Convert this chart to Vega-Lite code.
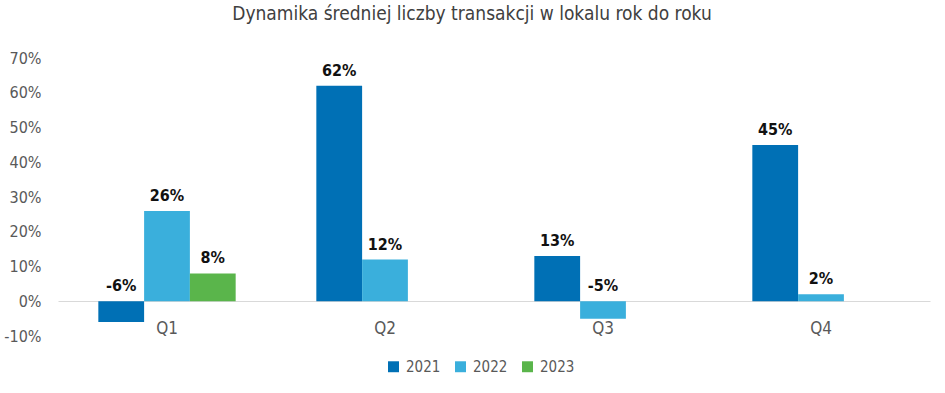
{
  "$schema": "https://vega.github.io/schema/vega-lite/v6.json",
  "autosize": {"type": "none"},
  "width": 872,
  "height": 278,
  "padding": {"left": 58, "top": 58, "right": 15, "bottom": 57},
  "background": "white",
  "config": {"view": {"stroke": null}, "font": "'DejaVu Sans Condensed', Lato, sans-serif", "axis": {"labelOverlap": false}},
  "title": {
    "text": "Dynamika średniej liczby transakcji w lokalu rok do roku",
    "fontSize": 19,
    "fontWeight": "normal",
    "color": "#404040",
    "font": "'DejaVu Sans Condensed', Lato, sans-serif",
    "anchor": "middle",
    "dx": -22,
    "offset": 26
  },
  "data": {
    "values": [
      {"q": "Q1", "year": "2021", "v": -0.06},
      {"q": "Q1", "year": "2022", "v": 0.26},
      {"q": "Q1", "year": "2023", "v": 0.08},
      {"q": "Q2", "year": "2021", "v": 0.62},
      {"q": "Q2", "year": "2022", "v": 0.12},
      {"q": "Q3", "year": "2021", "v": 0.13},
      {"q": "Q3", "year": "2022", "v": -0.05},
      {"q": "Q4", "year": "2021", "v": 0.45},
      {"q": "Q4", "year": "2022", "v": 0.02}
    ]
  },
  "encoding": {
    "x": {
      "field": "q", "type": "nominal",
      "scale": {"paddingInner": 0.37, "paddingOuter": 0.185},
      "axis": {
        "title": null, "labelAngle": 0, "offset": -35,
        "domainColor": "#d9d9d9", "domainWidth": 1, "ticks": false,
        "labelFontSize": 17, "labelColor": "#595959", "labelPadding": 19,
        "labelFont": "'DejaVu Sans Condensed', Lato, sans-serif"
      }
    },
    "xOffset": {"field": "year", "type": "nominal", "scale": {"domain": ["2021", "2022", "2023"], "paddingInner": 0}},
    "y": {
      "field": "v", "type": "quantitative",
      "scale": {"domain": [-0.1, 0.7], "nice": false},
      "axis": {
        "title": null, "format": ".0%", "values": [-0.1, 0, 0.1, 0.2, 0.3, 0.4, 0.5, 0.6, 0.7],
        "labelExpr": "replace(datum.label, '−', '-')",
        "labelOverlap": false,
        "grid": false, "domain": false, "ticks": false,
        "labelFontSize": 16, "labelColor": "#595959", "labelPadding": 17,
        "labelFont": "'DejaVu Sans Condensed', Lato, sans-serif"
      }
    }
  },
  "layer": [
    {
      "mark": {"type": "bar"},
      "encoding": {
        "color": {
          "field": "year", "type": "nominal",
          "scale": {"domain": ["2021", "2022", "2023"], "range": ["#0070b5", "#3aafdc", "#5ab54b"]},
          "legend": {
            "title": null, "orient": "none", "direction": "horizontal",
            "legendX": 328, "legendY": 301,
            "symbolType": "square", "symbolSize": 120, "symbolStrokeWidth": 0,
            "labelFontSize": 15, "labelColor": "#595959", "labelFont": "'DejaVu Sans Condensed', Lato, sans-serif",
            "columnPadding": 12, "labelOffset": 5
          }
        }
      }
    },
    {
      "mark": {
        "type": "text", "baseline": "bottom", "fontSize": 16, "fontWeight": "bold", "color": "#111111",
        "font": "'DejaVu Sans Condensed', Lato, sans-serif",
        "text": {"expr": "replace(format(datum.v, '.0%'), '−', '-')"},
        "dy": {"expr": "datum.v < 0 ? -7 + (scale('y', 0) - scale('y', datum.v)) : -7"}
      },
      "encoding": {}
    }
  ]
}
